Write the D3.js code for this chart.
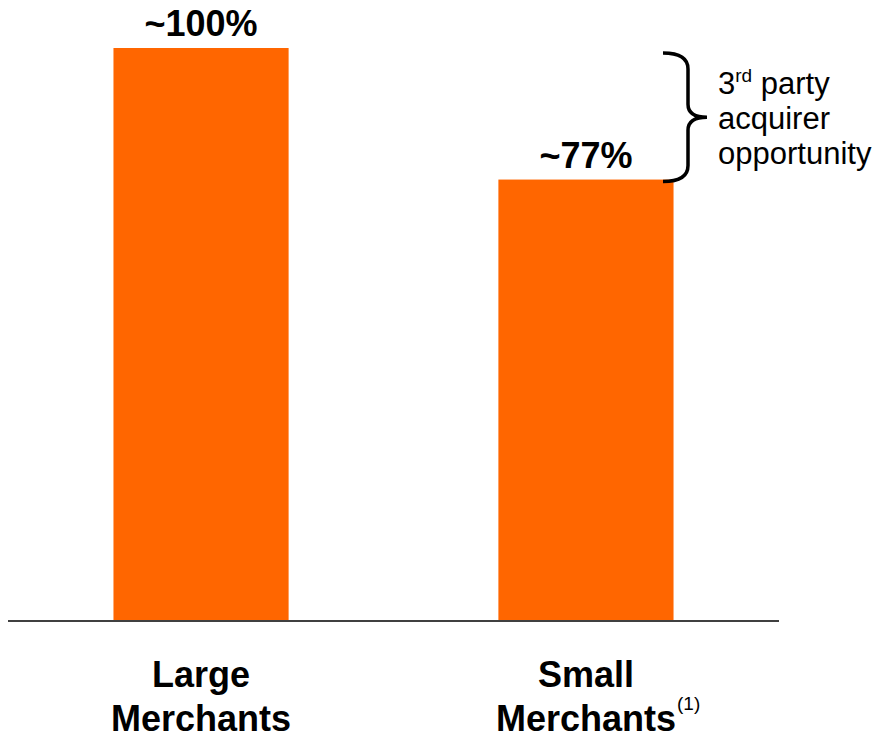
<!DOCTYPE html>
<html>
<head>
<meta charset="utf-8">
<script src="https://cdn.jsdelivr.net/npm/d3@7"></script>
<style>
  html, body { margin: 0; padding: 0; background: #fff; }
  svg { display: block; }
  text { font-family: 'Liberation Sans', Arial, sans-serif; fill: #000; }
</style>
</head>
<body>
<div id="chart"></div>
<script>
var categories = ['Large', 'Small'];
var categoryLines = [['Large', 'Merchants'], ['Small', 'Merchants']];
var footnotes = ['', '(1)'];
var values = [100, 77];
var valueLabels = ['~100%', '~77%'];
var noteLines = ['3', 'party', 'acquirer', 'opportunity'];

(function(window, d3){
  'use strict';

  var width = 878, height = 739;
  var orange = '#ff6600';

  var svg = d3.select('#chart').append('svg')
    .attr('width', width)
    .attr('height', height);

  var x = d3.scaleBand()
    .domain(categories)
    .range([8, 779])
    .paddingInner(0.545)
    .paddingOuter(0.274);

  var y = d3.scaleLinear()
    .domain([0, 100])
    .range([620, 48]);

  // bars
  svg.append('g').selectAll('rect')
    .data(values)
    .enter().append('rect')
    .attr('x', function(d, i) { return x(categories[i]); })
    .attr('y', function(d) { return y(d); })
    .attr('width', x.bandwidth())
    .attr('height', function(d) { return y(0) - y(d); })
    .attr('fill', orange);

  // baseline
  svg.append('line')
    .attr('x1', x.range()[0])
    .attr('x2', x.range()[1])
    .attr('y1', y(0) + 1)
    .attr('y2', y(0) + 1)
    .attr('stroke', '#404040')
    .attr('stroke-width', 2);

  // value labels
  svg.append('g').selectAll('text')
    .data(values)
    .enter().append('text')
    .attr('x', function(d, i) { return x(categories[i]) + x.bandwidth() / 2; })
    .attr('y', function(d) { return y(d) - 12; })
    .attr('text-anchor', 'middle')
    .style('font-size', '36px')
    .style('font-weight', 'bold')
    .text(function(d, i) { return valueLabels[i]; });

  // category labels
  var cat = svg.append('g').selectAll('g')
    .data(categoryLines)
    .enter().append('g')
    .attr('transform', function(d, i) {
      return 'translate(' + (x(categories[i]) + x.bandwidth() / 2) + ',0)';
    });

  cat.each(function(lines, i) {
    var g = d3.select(this);
    lines.forEach(function(line, j) {
      var t = g.append('text')
        .attr('x', 0)
        .attr('y', 687 + j * 44)
        .attr('text-anchor', 'middle')
        .style('font-size', '36px')
        .style('font-weight', 'bold')
        .text(line);
      if (j === lines.length - 1 && footnotes[i]) {
        var w = t.node().getComputedTextLength();
        g.append('text')
          .attr('x', w / 2 + 1)
          .attr('y', 687 + j * 44 - 21)
          .style('font-size', '19px')
          .text(footnotes[i]);
      }
    });
  });

  // bracket between the two bar tops
  var bx = 663, top = y(values[0]) + 5, bot = y(values[1]) + 2;
  var mid = (top + bot) / 2;
  var path = d3.path();
  path.moveTo(bx, top);
  path.quadraticCurveTo(bx + 25, top, bx + 25, top + 16);
  path.lineTo(bx + 25, mid - 13);
  path.quadraticCurveTo(bx + 25, mid, bx + 44, mid);
  path.quadraticCurveTo(bx + 25, mid, bx + 25, mid + 13);
  path.lineTo(bx + 25, bot - 16);
  path.quadraticCurveTo(bx + 25, bot, bx, bot);
  svg.append('path')
    .attr('d', path.toString())
    .attr('fill', 'none')
    .attr('stroke', '#000')
    .attr('stroke-width', 3.5);

  // annotation text
  var note = svg.append('g').attr('transform', 'translate(718,0)');
  var first = note.append('text')
    .attr('y', 94)
    .style('font-size', '31px');
  first.append('tspan').text(noteLines[0]);
  first.append('tspan')
    .attr('dy', -12)
    .style('font-size', '19px')
    .text('rd');
  first.append('tspan')
    .attr('dy', 12)
    .text(' ' + noteLines[1]);
  note.append('text')
    .attr('y', 129)
    .style('font-size', '31px')
    .text(noteLines[2]);
  note.append('text')
    .attr('y', 164)
    .style('font-size', '31px')
    .text(noteLines[3]);

})(window, window.d3);
</script>
</body>
</html>
